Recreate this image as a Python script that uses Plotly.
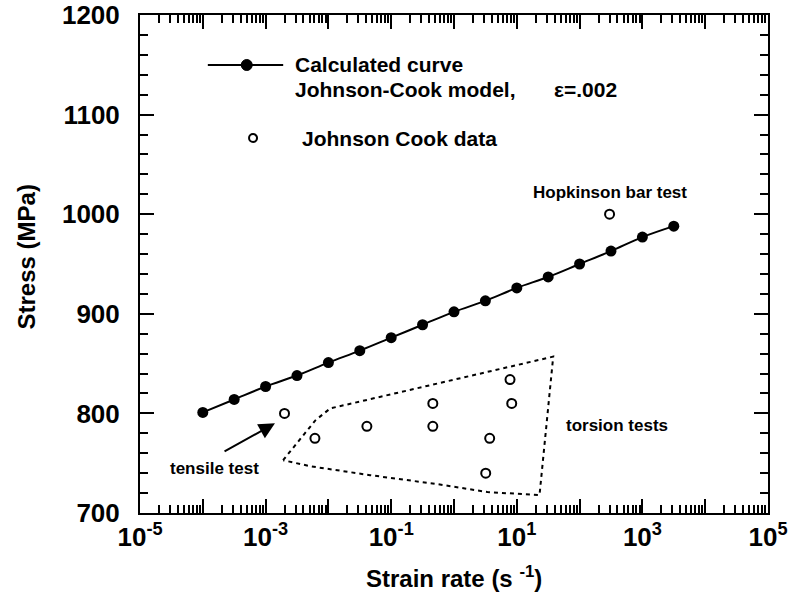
import math
import plotly.graph_objects as go

# Johnson-Cook model curve at strain 0.002 (half-decade steps in strain rate)
model_rate = [1e-4, 3.16e-4, 1e-3, 3.16e-3, 1e-2, 3.16e-2, 1e-1, 3.16e-1,
              1e0, 3.16e0, 1e1, 3.16e1, 1e2, 3.16e2, 1e3, 3.16e3]
model_stress = [801, 814, 827, 838, 851, 863, 876, 889,
                902, 913, 926, 937, 950, 963, 977, 988]

# Johnson-Cook experimental data
data_rate = [2e-3, 6.1e-3, 0.041, 0.46, 0.46, 3.7, 3.2, 7.8, 8.3, 300]
data_stress = [800, 775, 787, 810, 787, 775, 740, 834, 810, 1000]

# Dotted outline around the torsion tests
torsion_rate = [1.9e-3, 6.2e-3, 1.07e-2, 38, 23, 3.4, 0.54, 0.046, 5.1e-3, 1.9e-3]
torsion_stress = [753, 793, 805, 857, 718, 721, 729, 738, 747, 753]

# axis ticks
x_decades = list(range(-5, 6))
y_ticks = [700, 800, 900, 1000, 1100, 1200]

FONT = "Liberation Sans, Arial, sans-serif"

fig = go.Figure()

fig.add_trace(go.Scatter(
    x=torsion_rate, y=torsion_stress, mode="lines",
    line=dict(color="black", width=2, dash="4px,4px"),
    showlegend=False, hoverinfo="skip"))

fig.add_trace(go.Scatter(
    x=model_rate, y=model_stress, mode="lines+markers",
    line=dict(color="black", width=2, shape="spline"),
    marker=dict(symbol="circle", size=11, color="black"),
    showlegend=False))

fig.add_trace(go.Scatter(
    x=data_rate, y=data_stress, mode="markers",
    marker=dict(symbol="circle-open", size=9, color="black", line=dict(width=2)),
    showlegend=False))

# x tick labels every second decade, major ticks every decade
x_tickvals = [10.0 ** d for d in x_decades]
x_ticktext = [f"<b>10<sup>{d}</sup></b>" if d % 2 != 0 else "" for d in x_decades]
x_minor = [k * 10.0 ** d for d in range(-5, 5) for k in range(2, 10)]
# en spaces keep the stress labels clear of the inside ticks
y_ticktext = [f"<b>{v}</b>\u2002" for v in y_ticks]

tick_font = dict(family=FONT, size=26, color="black")

fig.update_layout(
    xaxis=dict(
        type="log", range=[-5, 5], automargin=False,
        tickmode="array", tickvals=x_tickvals, ticktext=x_ticktext,
        showline=True, linecolor="black", linewidth=2, mirror="ticks",
        showgrid=False, zeroline=False, ticks="inside", tickcolor="black",
        tickwidth=2, ticklen=14, tickfont=tick_font,
        minor=dict(tickmode="array", tickvals=x_minor, ticks="inside",
                   ticklen=8, tickwidth=2, tickcolor="black", showgrid=False)),
    yaxis=dict(
        range=[700, 1200], automargin=False,
        tickmode="array", tickvals=y_ticks, ticktext=y_ticktext,
        showline=True, linecolor="black", linewidth=2, mirror="ticks",
        showgrid=False, zeroline=False, ticks="inside", tickcolor="black",
        tickwidth=2, ticklen=14, tickfont=tick_font,
        minor=dict(tickmode="linear", tick0=700, dtick=20, ticks="inside",
                   ticklen=8, tickwidth=2, tickcolor="black", showgrid=False)),
)

ann_font = dict(family=FONT, size=17, color="black")
leg_font = dict(family=FONT, size=21, color="black")
title_font = dict(family=FONT, size=24, color="black")

annotations = [
    dict(x=math.log10(300), y=1022, xref="x", yref="y", text="<b>Hopkinson bar test</b>",
         showarrow=False, font=ann_font, xanchor="center", yanchor="middle"),
    dict(x=2.6, y=788, xref="x", yref="y", text="<b>torsion tests</b>",
         showarrow=False, font=ann_font, xanchor="center", yanchor="middle"),
    dict(x=-3.81, y=745, xref="x", yref="y", text="<b>tensile test</b>",
         showarrow=False, font=ann_font, xanchor="center", yanchor="middle"),
    # arrow pointing at the tensile test point
    dict(x=math.log10(1.41e-3), y=790, xref="x", yref="y",
         ax=math.log10(2.1e-4), ay=761, axref="x", ayref="y",
         text="", showarrow=True, arrowhead=2, arrowsize=1.6, arrowwidth=2,
         arrowcolor="black"),
    # legend text
    dict(x=0.2436, y=0.8996, xref="paper", yref="paper", text="<b>Calculated curve</b>",
         showarrow=False, font=leg_font, xanchor="left", yanchor="middle"),
    dict(x=0.2436, y=0.8494, xref="paper", yref="paper", text="<b>Johnson-Cook model,</b>",
         showarrow=False, font=leg_font, xanchor="left", yanchor="middle"),
    dict(x=0.656, y=0.8494, xref="paper", yref="paper", text="<b>\u03b5=.002</b>",
         showarrow=False, font=leg_font, xanchor="left", yanchor="middle"),
    dict(x=0.2548, y=0.7530, xref="paper", yref="paper", text="<b>Johnson Cook data</b>",
         showarrow=False, font=leg_font, xanchor="left", yanchor="middle"),
    # axis titles
    dict(x=0.5, y=-0.128, xref="paper", yref="paper",
         text="<b>Strain rate (s <sup>-1</sup>)</b>", showarrow=False, font=title_font,
         xanchor="center", yanchor="middle"),
    dict(x=-0.18, y=0.515, xref="paper", yref="paper", text="<b>Stress (MPa)</b>",
         textangle=-90, showarrow=False, font=title_font,
         xanchor="center", yanchor="middle"),
]

legend_shapes = [
    # legend line sample with filled marker
    dict(type="line", xref="paper", yref="paper", x0=0.108, x1=0.228,
         y0=0.8996, y1=0.8996, line=dict(color="black", width=2)),
    dict(type="circle", xref="paper", yref="paper",
         xsizemode="pixel", ysizemode="pixel", xanchor=0.170, yanchor=0.8996,
         x0=-5.5, x1=5.5, y0=-5.5, y1=5.5,
         fillcolor="black", line=dict(color="black", width=1)),
    # legend open circle
    dict(type="circle", xref="paper", yref="paper",
         xsizemode="pixel", ysizemode="pixel", xanchor=0.180, yanchor=0.7530,
         x0=-4, x1=4, y0=-4, y1=4,
         fillcolor="white", line=dict(color="black", width=2)),
]

fig.update_layout(
    width=795, height=593,
    margin=dict(l=140, r=27, t=15, b=80),
    paper_bgcolor="white", plot_bgcolor="white",
    annotations=annotations, shapes=legend_shapes,
    showlegend=False,
    font=dict(family=FONT, color="black"),
)

fig.write_html("out.html")
